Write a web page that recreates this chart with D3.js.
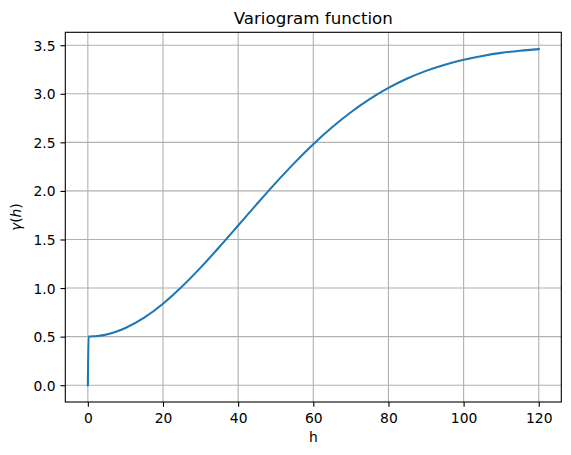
<!DOCTYPE html>
<html>
<head>
<meta charset="utf-8">
<script src="https://cdn.jsdelivr.net/npm/d3@7"></script>
<style>
  html, body { margin: 0; padding: 0; background: #fff; }
  svg { display: block; }
  text { font-family: "DejaVu Sans", sans-serif; fill: #000; }
</style>
</head>
<body>
<svg id="chart" width="571" height="455"></svg>
<script>
// Data
const lags = [0, 0.2, 2.5, 5, 7.5, 10, 15, 20, 25, 30, 35, 40, 45, 50, 55, 60, 65, 70, 75, 80, 85, 90, 95, 100, 105, 110, 115, 120];
const gammaValues = [0, 0.500, 0.506, 0.522, 0.550, 0.589, 0.696, 0.839, 1.013, 1.210, 1.423, 1.644, 1.866, 2.083, 2.289, 2.481, 2.655, 2.810, 2.945, 3.060, 3.157, 3.236, 3.300, 3.351, 3.390, 3.421, 3.443, 3.460];
const xTicks = [0, 20, 40, 60, 80, 100, 120];
const yTicks = [0.0, 0.5, 1.0, 1.5, 2.0, 2.5, 3.0, 3.5];
const titleText = "Variogram function";
const xLabelText = "h";

(function () {
const svg = d3.select("#chart");
const pLeft = 65.3, pRight = 561.3, pTop = 32.3, pBottom = 402;

const x = d3.scaleLinear().domain([-6, 126]).range([pLeft, pRight]);
const y = d3.scaleLinear().domain([-0.173, 3.633]).range([pBottom, pTop]);

// grid
const grid = svg.append("g");
grid.selectAll("line.vx").data(xTicks).join("line")
  .attr("class", "vx")
  .attr("x1", d => x(d)).attr("x2", d => x(d))
  .attr("y1", pTop).attr("y2", pBottom)
  .attr("stroke", "#b0b0b0").attr("stroke-width", 1.1);
grid.selectAll("line.hy").data(yTicks).join("line")
  .attr("class", "hy")
  .attr("y1", d => y(d)).attr("y2", d => y(d))
  .attr("x1", pLeft).attr("x2", pRight)
  .attr("stroke", "#b0b0b0").attr("stroke-width", 1.1);

// line
const pts = lags.map((h, i) => [h, gammaValues[i]]);
svg.append("path")
  .datum(pts)
  .attr("fill", "none")
  .attr("stroke", "#1f77b4")
  .attr("stroke-width", 2.08)
  .attr("stroke-linecap", "square")
  .attr("stroke-linejoin", "round")
  .attr("d", d3.line().x(d => x(d[0])).y(d => y(d[1])).curve(d3.curveMonotoneX));

// axes
const xAxis = d3.axisBottom(x).tickValues(xTicks).tickFormat(d3.format("d"))
  .tickSize(4.86).tickPadding(4.86);
const yAxis = d3.axisLeft(y).tickValues(yTicks).tickFormat(d3.format(".1f"))
  .tickSize(4.86).tickPadding(4.86);

const gx = svg.append("g").attr("transform", `translate(0,${pBottom})`).call(xAxis);
const gy = svg.append("g").attr("transform", `translate(${pLeft},0)`).call(yAxis);
[gx, gy].forEach(g => {
  g.select(".domain").remove();
  g.selectAll(".tick line").attr("stroke", "#000").attr("stroke-width", 1.1);
  g.selectAll(".tick text").attr("font-size", "13.89px").attr("font-family", "DejaVu Sans").attr("fill", "#000");
});
gx.selectAll(".tick text").attr("dy", null).attr("y", 20.7);
gy.selectAll(".tick text").attr("dy", "0.36em");

// frame
svg.append("rect")
  .attr("x", pLeft).attr("y", pTop)
  .attr("width", pRight - pLeft).attr("height", pBottom - pTop)
  .attr("fill", "none").attr("stroke", "#000").attr("stroke-width", 1.1);

// title
svg.append("text")
  .attr("x", (pLeft + pRight) / 2).attr("y", 24)
  .attr("text-anchor", "middle")
  .attr("font-size", "16.67px")
  .text(titleText);

// x label
svg.append("text")
  .attr("x", (pLeft + pRight) / 2).attr("y", 442)
  .attr("text-anchor", "middle")
  .attr("font-size", "13.89px")
  .text(xLabelText);

// y label (mathtext-like)
const yl = svg.append("text")
  .attr("transform", `translate(21,${(pTop + pBottom) / 2}) rotate(-90)`)
  .attr("text-anchor", "middle")
  .attr("font-size", "13.89px");
yl.append("tspan").attr("font-style", "italic").text("γ");
yl.append("tspan").text("(");
yl.append("tspan").attr("font-style", "italic").text("h");
yl.append("tspan").text(")");
})();
</script>
</body>
</html>
